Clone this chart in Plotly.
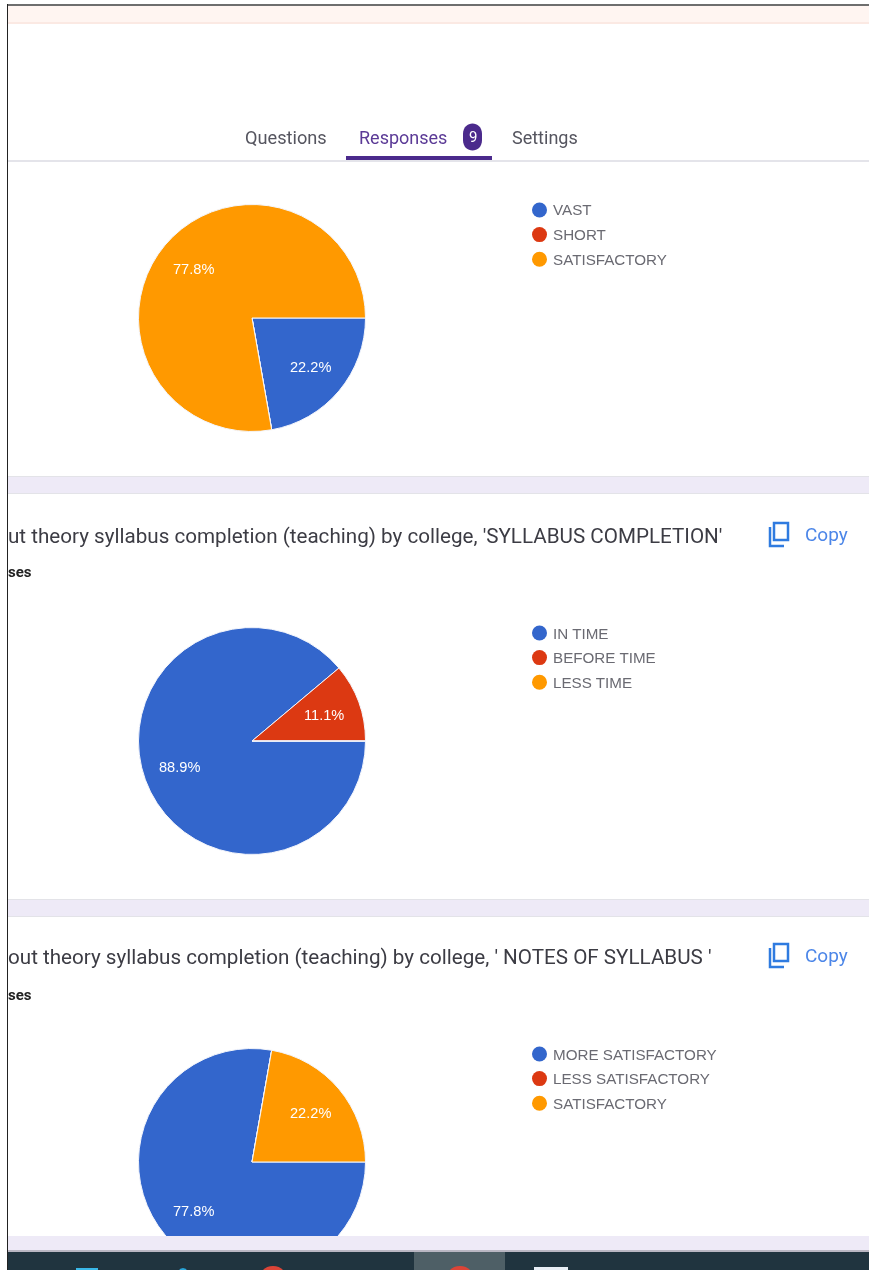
import math
import plotly.graph_objects as go

W, H = 869, 1300  # canvas taller than the window so the third pie runs past the fold

COLORS = ["#3366CC", "#DC3912", "#FF9900"]

pie1_labels = ["VAST", "SHORT", "SATISFACTORY"]
pie1_values = [2, 0, 7]
pie2_labels = ["IN TIME", "BEFORE TIME", "LESS TIME"]
pie2_values = [8, 1, 0]
pie3_labels = ["MORE SATISFACTORY", "LESS SATISFACTORY", "SATISFACTORY"]
pie3_values = [7, 0, 2]

tabs = ["Questions", "Responses", "Settings"]
title2 = "ut theory syllabus completion (teaching) by college, 'SYLLABUS COMPLETION'"
title3 = "out theory syllabus completion (teaching) by college, ' NOTES OF SYLLABUS '"
responses_fragment = "ses"
copy_label = "Copy"
badge = "9"


def px(x):
    return x / W


def py(y):
    return 1 - y / H


fig = go.Figure()
R = 113.5
CX = 252
shapes = []
annos = []


def rect(x0, y0, x1, y1, color, layer="above"):
    shapes.append(dict(type="rect", xref="paper", yref="paper", x0=px(x0), x1=px(x1),
                       y0=py(y1), y1=py(y0), fillcolor=color, line_width=0, layer=layer))


def circle(x0, y0, x1, y1, color):
    shapes.append(dict(type="circle", xref="paper", yref="paper", x0=px(x0), x1=px(x1),
                       y0=py(y1), y1=py(y0), fillcolor=color, line_width=0, layer="above"))


def text(x, y, s, size, color, family="Roboto", anchor="left"):
    annos.append(dict(xref="paper", yref="paper", x=px(x), y=py(y), text=s, showarrow=False,
                      xanchor=anchor, yanchor="middle", align=anchor,
                      font=dict(family=family, size=size, color=color),
                      borderpad=0, borderwidth=0))


for labels, values, cy in [
    (pie1_labels, pie1_values, 318),
    (pie2_labels, pie2_values, 741),
    (pie3_labels, pie3_values, 1162),
]:
    fig.add_trace(go.Pie(
        labels=labels, values=values, sort=False, direction="clockwise", rotation=90,
        domain=dict(x=[px(CX - R), px(CX + R)], y=[py(cy + R), py(cy - R)]),
        marker=dict(colors=COLORS, line=dict(color="#F4F6FC", width=1)),
        textinfo="none",
        showlegend=False, hoverinfo="label+percent",
    ))
    # percentage labels sit at a fixed radial distance on each slice's mid-angle
    total = sum(values)
    acc = 0
    for v in values:
        if v:
            mid = (acc + v / 2) / total * 2 * math.pi
            text(CX + 77 * math.cos(mid), cy + 77 * math.sin(mid), f"{v / total:.1%}", 14.6,
                 "#FFFFFF", family="Liberation Sans", anchor="center")
        acc += v

# chrome strips
rect(0, 0, W, 5, "#FFFFFF")
rect(7, 4, W, 6, "#6E6E6E")
rect(7, 6, W, 23, "#FFF5F1")
rect(7, 22, W, 24, "#FBE9E3")
# tab rule
rect(7, 160, W, 162, "#E4E4EA")
rect(346, 156, 492, 160, "#4B2A8C")
# separators between cards
for top, bottom in [(476, 494), (899, 917)]:
    rect(7, top, W, bottom, "#EEEAF7")
    rect(7, top, W, top + 1, "#E3E3E8")
    rect(7, bottom - 1, W, bottom, "#E3E3E8")
rect(7, 1236, W, 1251, "#EEEAF7")
rect(0, 1251, W, H, "#20343F")
rect(7, 1250, W, 1252, "#B9B6C2")
rect(414, 1252, 505, H, "#4E5F66")
# taskbar icons, cut by the window edge
rect(76, 1268, 98, H, "#3AB8E8")
circle(176, 1268, 190, 1290, "#2AA5D8")
circle(258, 1266, 288, 1296, "#DB4437")
circle(445, 1266, 475, 1296, "#DB4437")
rect(534, 1267, 568, H, "#E8EEF5")
# left page edge, over the cards
rect(0, 0, 7, H, "#FFFFFF")
rect(7, 4, 8, 1270, "#222222")

# tabs
text(245, 137, tabs[0], 18.2, "#55555F")
text(359, 137, tabs[1], 18, "#5B3A96")
text(512, 137, tabs[2], 18, "#55555F")
shapes.append(dict(type="path", xref="paper", yref="paper", fillcolor="#4B2A8C", line_width=0, layer="above",
                   path=f"M {px(463)} {py(134)} C {px(463)} {py(120)} {px(482)} {py(120)} {px(482)} {py(134)} "
                        f"L {px(482)} {py(140)} C {px(482)} {py(154)} {px(463)} {py(154)} {px(463)} {py(140)} Z"))
text(472.5, 137, badge, 15, "#FFFFFF", anchor="center")

# card headers
text(8, 536, title2, 20.64, "#3C3C44")
text(8, 957, title3, 20.64, "#3C3C44")
text(8, 572, "<b>" + responses_fragment + "</b>", 15, "#222222")
text(8, 995, "<b>" + responses_fragment + "</b>", 15, "#222222")
for cy in (534, 955):
    text(805, cy, copy_label, 19, "#4C86E8")
    shapes.append(dict(type="rect", xref="paper", yref="paper", x0=px(774), x1=px(788), y0=py(cy + 6), y1=py(cy - 11),
                       line=dict(color="#2F7BE0", width=2.5), fillcolor="rgba(0,0,0,0)", layer="above"))
    shapes.append(dict(type="path", xref="paper", yref="paper", line=dict(color="#2F7BE0", width=2.5), layer="above",
                       path=f"M {px(770)} {py(cy - 7)} L {px(770)} {py(cy + 12)} L {px(784)} {py(cy + 12)}"))

# legends
for labels, y0 in [(pie1_labels, 210), (pie2_labels, 633), (pie3_labels, 1054)]:
    for i, lab in enumerate(labels):
        y = y0 + i * 24.6
        circle(532, y - 7.5, 547, y + 7.5, COLORS[i])
        text(553, y, lab, 15.2, "#6A6A72", family="Liberation Sans")

fig.update_layout(
    width=W, height=H, autosize=False,
    margin=dict(l=0, r=0, t=0, b=0),
    paper_bgcolor="white", plot_bgcolor="white",
    shapes=shapes, annotations=annos,
)
fig.write_html(
    "out.html",
    config={"displayModeBar": False},
    post_script="document.body.style.margin='0';document.documentElement.style.overflow='hidden';document.body.style.overflow='hidden';document.querySelector('.js-plotly-plot').style.filter='blur(0.5px)';",
)
